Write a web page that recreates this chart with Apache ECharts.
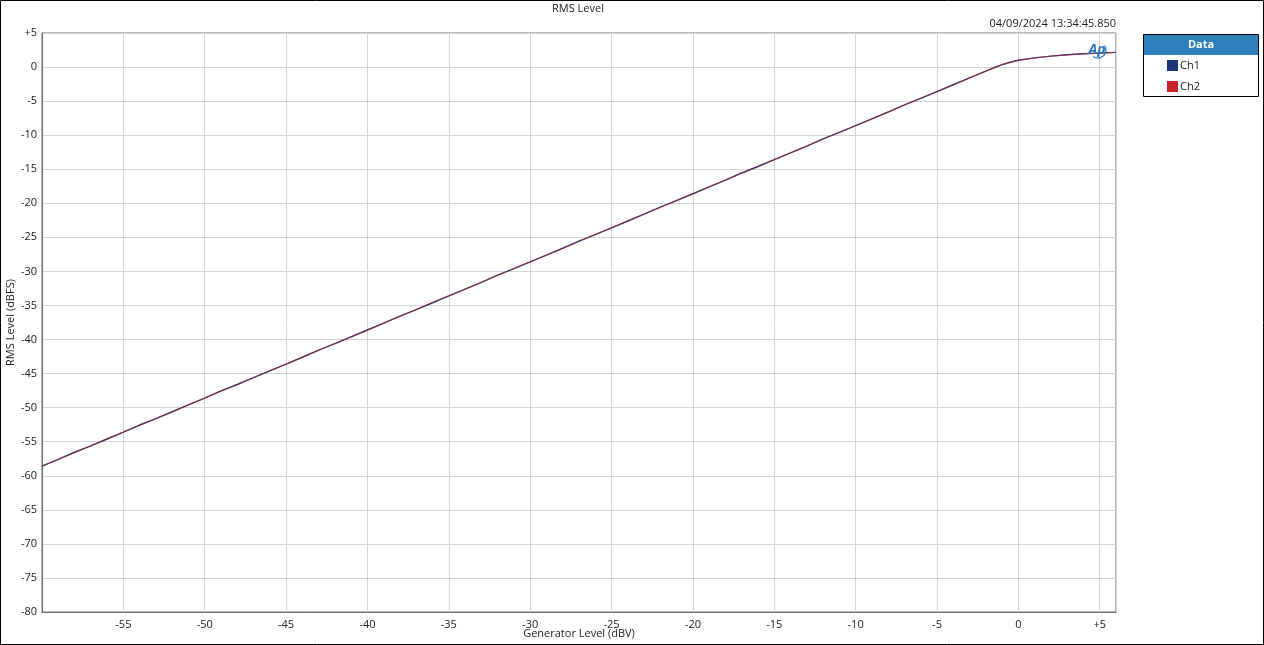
<!DOCTYPE html>
<html>
<head>
<meta charset="utf-8">
<script src="https://cdn.jsdelivr.net/npm/echarts@6/dist/echarts.min.js"></script>
<style>
html,body{margin:0;padding:0;background:#fff;}
#chart{width:1264px;height:645px;}
</style>
</head>
<body>
<div id="chart"></div>
<script>
// Generator level (dBV)
const genLevel = [-60,-59,-58,-57,-56,-55,-54,-53,-52,-51,-50,-49,-48,-47,-46,-45,-44,-43,-42,-41,-40,-39,-38,-37,-36,-35,-34,-33,-32,-31,-30,-29,-28,-27,-26,-25,-24,-23,-22,-21,-20,-19,-18,-17,-16,-15,-14,-13,-12,-11,-10,-9,-8,-7,-6,-5,-4,-3,-2,-1.5,-1,-0.5,0,1,2,3,4,5,6];
// RMS level (dBFS)
const ch1 = [-58.6,-57.6,-56.55,-55.6,-54.6,-53.6,-52.55,-51.6,-50.6,-49.6,-48.6,-47.55,-46.6,-45.6,-44.6,-43.6,-42.6,-41.55,-40.6,-39.6,-38.6,-37.6,-36.55,-35.6,-34.6,-33.6,-32.6,-31.6,-30.55,-29.6,-28.6,-27.6,-26.6,-25.55,-24.6,-23.6,-22.6,-21.6,-20.55,-19.6,-18.6,-17.6,-16.6,-15.55,-14.6,-13.6,-12.6,-11.6,-10.55,-9.6,-8.6,-7.6,-6.6,-5.55,-4.6,-3.6,-2.6,-1.6,-0.6,-0.1,0.35,0.7,1.0,1.35,1.6,1.8,1.95,2.05,2.15];
const ch2 = [-58.6,-57.6,-56.6,-55.6,-54.55,-53.6,-52.6,-51.6,-50.6,-49.55,-48.6,-47.6,-46.6,-45.6,-44.55,-43.6,-42.6,-41.6,-40.6,-39.55,-38.6,-37.6,-36.6,-35.6,-34.55,-33.6,-32.6,-31.6,-30.6,-29.55,-28.6,-27.6,-26.6,-25.6,-24.55,-23.6,-22.6,-21.6,-20.6,-19.55,-18.6,-17.6,-16.6,-15.6,-14.55,-13.6,-12.6,-11.6,-10.6,-9.55,-8.6,-7.6,-6.6,-5.6,-4.55,-3.6,-2.6,-1.6,-0.6,-0.1,0.35,0.7,1.0,1.35,1.6,1.8,1.95,2.05,2.15];
const seriesNames = ['Ch1','Ch2'];
const seriesColors = ['#1b3579','#c8232a'];
const titleText = 'RMS Level';
const timestamp = '04/09/2024 13:34:45.850';
const xName = 'Generator Level (dBV)';
const yName = 'RMS Level (dBFS)';

const FONT = '"Open Sans","Noto Sans",sans-serif';
const fmt = v => v > 0 ? '+' + v : String(v);
const chart = echarts.init(document.getElementById('chart'), null, {renderer:'canvas'});
const pair = arr => genLevel.map((x,i)=>[x,arr[i]]);

chart.setOption({
  animation:false,
  backgroundColor:'#fff',
  textStyle:{fontFamily:FONT},
  title:[
    {text:titleText,left:578,top:3,padding:0,textAlign:'center',textStyle:{fontSize:11,fontWeight:'normal',color:'#222',fontFamily:FONT}},
    {text:timestamp,right:148,top:18,padding:0,textStyle:{fontSize:11,fontWeight:'normal',color:'#222',fontFamily:FONT}}
  ],
  grid:{left:42,right:148,top:33,bottom:33,outerBoundsMode:'none',containLabel:false,show:true,borderColor:'#707070',borderWidth:1,backgroundColor:'#fff'},
  legend:{
    orient:'vertical',left:1162,top:55,itemWidth:11,itemHeight:11,itemGap:10,icon:'rect',
    data:seriesNames,
    textStyle:{fontSize:11,color:'#222',fontFamily:FONT,padding:[0,0,0,-3]}
  },
  xAxis:{
    type:'value',min:-60,max:6,interval:5,
    name:xName,nameLocation:'middle',nameGap:16,nameMoveOverlap:false,
    nameTextStyle:{fontSize:11,color:'#222',fontFamily:FONT},
    axisLine:{show:true,onZero:false,lineStyle:{color:'#707070'}},
    axisTick:{show:false},
    axisLabel:{formatter:fmt,fontSize:11,color:'#222',margin:7,showMinLabel:false,showMaxLabel:false,fontFamily:FONT},
    splitLine:{show:true,lineStyle:{color:'#d4d4d4',width:1}}
  },
  yAxis:{
    type:'value',min:-80,max:5,interval:5,
    name:yName,nameLocation:'middle',nameGap:26,nameRotate:90,nameMoveOverlap:false,
    nameTextStyle:{fontSize:11,color:'#222',fontFamily:FONT},
    axisLine:{show:true,onZero:false,lineStyle:{color:'#707070'}},
    axisTick:{show:false},
    axisLabel:{formatter:fmt,fontSize:11,color:'#222',margin:5,fontFamily:FONT},
    splitLine:{show:true,lineStyle:{color:'#d4d4d4',width:1}}
  },
  series:[
    {name:seriesNames[0],type:'line',data:pair(ch1),showSymbol:false,color:seriesColors[0],lineStyle:{width:1.4,color:seriesColors[0]},z:2},
    {name:seriesNames[1],type:'line',data:pair(ch2),showSymbol:false,color:seriesColors[1],lineStyle:{width:1,color:seriesColors[1],opacity:0.65},z:3}
  ],
  graphic:[
    {type:'rect',shape:{x:0.5,y:0.5,width:1263,height:644},style:{fill:'none',stroke:'#000',lineWidth:1},silent:true,z:100},
    {type:'rect',shape:{x:1143.5,y:34.5,width:115,height:62},style:{fill:'#fff',stroke:'#000',lineWidth:1},z:-1},
    {type:'rect',shape:{x:1144,y:35,width:114,height:20},style:{fill:'#2f7fbd'},z:1},
    {type:'text',x:1201,y:45,style:{text:'Data',fill:'#fff',font:'bold 11px '+FONT,textAlign:'center',textVerticalAlign:'middle'},z:2},
    {type:'text',x:1097,y:50,style:{text:'Ap',fill:'#2a79b5',font:'italic bold 14px '+FONT,textAlign:'center',textVerticalAlign:'middle'},z:5},
    {type:'arc',shape:{cx:1098,cy:50,r:8,startAngle:-0.6,endAngle:2.2},style:{stroke:'#2a79b5',lineWidth:1.2,fill:'none'},z:5}
  ]
});
</script>
</body>
</html>
